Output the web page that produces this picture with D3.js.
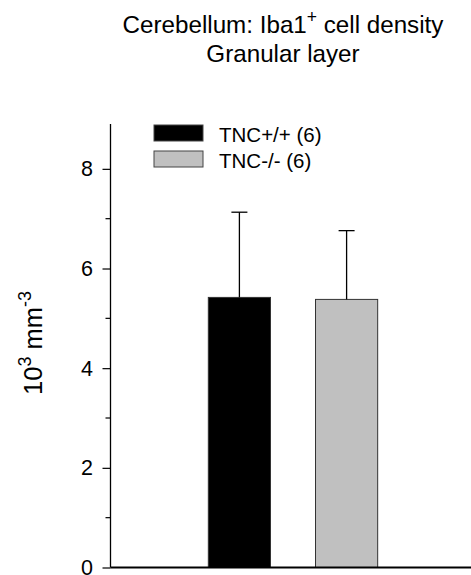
<!DOCTYPE html>
<meta charset="utf-8">
<style>
body { margin: 0; background: #fff; }
text { font-family: "Liberation Sans", Arial, sans-serif; fill: #000; }
</style>
<svg width="471" height="575"></svg>
<script src="https://d3js.org/d3.v7.min.js"></script>
<script>

var groups = ["TNC+/+ (6)", "TNC-/- (6)"];
var means = [5.42, 5.38];
var errs = [1.71, 1.38];
var colors = ["#000000", "#c0c0c0"];
var yTicks = [0, 2, 4, 6, 8];
var yMinor = [1, 3, 5, 7];

var svg = d3.select("svg"),
    width = +svg.attr("width"),
    height = +svg.attr("height");

var margin = {left: 110.5, bottom: 567.5, top: 124};

var y = d3.scaleLinear()
    .domain([0, 8.9])
    .range([margin.bottom, margin.top]);

var x = d3.scaleBand()
    .domain(groups)
    .range([144, 442])
    .paddingInner(0.42)
    .paddingOuter(0.6);

// title
var title = svg.append("text")
    .attr("x", 283)
    .attr("y", 33)
    .attr("text-anchor", "middle")
    .style("font-size", "24.2px");
title.append("tspan").text("Cerebellum: Iba1");
title.append("tspan").attr("dy", -10).style("font-size", "17.5px").text("+");
title.append("tspan").attr("dy", 10).text(" cell density");

svg.append("text")
    .attr("x", 283)
    .attr("y", 62)
    .attr("text-anchor", "middle")
    .style("font-size", "24.2px")
    .text("Granular layer");

// bars
svg.selectAll(".bar")
  .data(groups)
  .enter().append("rect")
    .attr("class", "bar")
    .attr("x", function(d) { return x(d); })
    .attr("y", function(d, i) { return y(means[i]); })
    .attr("width", x.bandwidth())
    .attr("height", function(d, i) { return y(0) - y(means[i]); })
    .style("fill", function(d, i) { return colors[i]; })
    .style("stroke", "#333")
    .style("stroke-width", 1);

// error bars (upper only)
var eb = svg.selectAll(".err")
  .data(groups)
  .enter().append("g")
    .attr("class", "err")
    .attr("transform", function(d) { return "translate(" + (x(d) + x.bandwidth() / 2) + ",0)"; });
eb.append("line")
    .attr("y1", function(d, i) { return y(means[i]); })
    .attr("y2", function(d, i) { return y(means[i] + errs[i]); })
    .style("stroke", "#000").style("stroke-width", 1.3);
eb.append("line")
    .attr("x1", -8).attr("x2", 8)
    .attr("y1", function(d, i) { return y(means[i] + errs[i]); })
    .attr("y2", function(d, i) { return y(means[i] + errs[i]); })
    .style("stroke", "#000").style("stroke-width", 1.3);

// y axis
var yAxis = svg.append("g")
    .attr("transform", "translate(" + margin.left + ",0)")
    .call(d3.axisLeft(y).tickValues(yTicks).tickSize(8).tickPadding(9.5).tickFormat(d3.format("d")));
yAxis.select(".domain").remove();
yAxis.selectAll("line").style("stroke", "#000").style("stroke-width", 1.2);
yAxis.selectAll("text").style("font-size", "21.5px").style("font-family", "'Liberation Sans', Arial, sans-serif");

svg.append("g")
    .attr("transform", "translate(" + margin.left + ",0)")
    .selectAll("line")
  .data(yMinor)
  .enter().append("line")
    .attr("x1", -5).attr("x2", 0)
    .attr("y1", function(d) { return y(d); })
    .attr("y2", function(d) { return y(d); })
    .style("stroke", "#000").style("stroke-width", 1.2);

svg.append("line")
    .attr("x1", margin.left).attr("x2", margin.left)
    .attr("y1", margin.top).attr("y2", y(0))
    .style("stroke", "#000").style("stroke-width", 1.3);

// x axis baseline
svg.append("line")
    .attr("x1", margin.left).attr("x2", width)
    .attr("y1", y(0)).attr("y2", y(0))
    .style("stroke", "#000").style("stroke-width", 2.2);

// y label
var yl = svg.append("text")
    .attr("transform", "translate(42,343) rotate(-90)")
    .attr("text-anchor", "middle")
    .style("font-size", "25.5px");
yl.append("tspan").text("10");
yl.append("tspan").attr("dy", -11).style("font-size", "18px").text("3");
yl.append("tspan").attr("dy", 11).text(" mm");
yl.append("tspan").attr("dy", -11).style("font-size", "18px").text("-3");

// legend
var leg = svg.selectAll(".leg")
  .data(groups)
  .enter().append("g")
    .attr("class", "leg")
    .attr("transform", function(d, i) { return "translate(154," + (125 + i * 26) + ")"; });
leg.append("rect")
    .attr("width", 49).attr("height", 16)
    .style("fill", function(d, i) { return colors[i]; })
    .style("stroke", "#444").style("stroke-width", 1);
leg.append("text")
    .attr("x", 65).attr("y", 16.5)
    .style("font-size", "20.5px")
    .text(function(d) { return d; });

</script>
